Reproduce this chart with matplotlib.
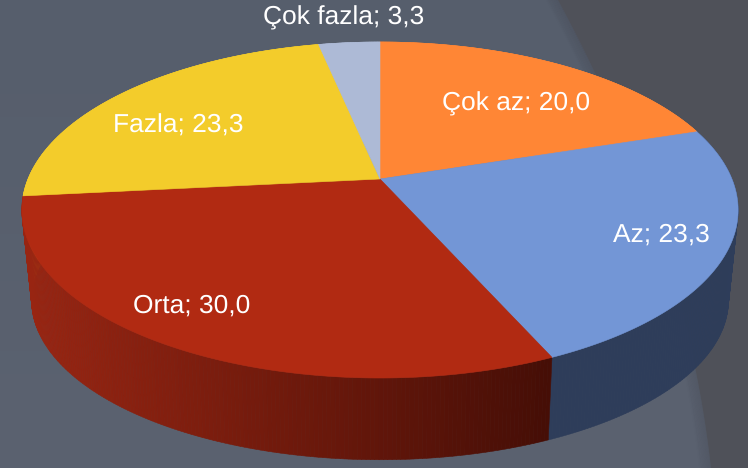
import numpy as np
import matplotlib
matplotlib.use('Agg')
import matplotlib.pyplot as plt
from matplotlib.patches import Polygon

plt.rcParams['font.family'] = ['Liberation Sans', 'DejaVu Sans']
plt.rcParams['text.hinting'] = 'none'

labels = ['Çok az', 'Az', 'Orta', 'Fazla', 'Çok fazla']
values = [20.0, 23.3, 30.0, 23.3, 3.3]
colors = ['#FF8635', '#7396D6', '#B12A12', '#F3CC2B', '#ADBAD6']
label_pos = [(516.5, 110), (661.5, 242), (191.5, 313), (178, 133), (343.5, 24)]


def project(theta, cy, R, A, k):
    # tilted circle, perspective squashes the far side
    u, v = np.sin(theta), np.cos(theta)
    d = 1 + k * v
    return 380 + R * u / d, cy - A * v / d


def topPoint(theta):
    return project(theta, 179, 352, 162.3, 0.1845)


def bottomPoint(theta):
    return project(theta, 270, 342, 153.5, 0.191)


def sideColor(i, x):
    if i == 2:
        t = np.clip((x - 30) / (547 - 30), 0, 1)
        c0 = np.array([152, 37, 18])
        c1 = np.array([70, 14, 6])
        return tuple((c0 + (c1 - c0) * t) / 255)
    if i == 1:
        return '#2E3D5A'
    return matplotlib.colors.to_rgb(colors[i])


def drawBackground(ax):
    ys = np.arange(0, 469)
    grad = np.zeros((469, 1, 3))
    grad[:, 0, 0] = np.linspace(86, 91, 469) / 255
    grad[:, 0, 1] = np.linspace(94, 98, 469) / 255
    grad[:, 0, 2] = np.linspace(108, 112, 469) / 255
    ax.imshow(grad, extent=(0, 748, 468, 0), aspect='auto', zorder=0)

    # dark page-curl area on the right
    fit = np.polyfit([0, 75, 367, 468], [558, 596, 695, 711], 3)
    xs = np.polyval(fit, ys)
    for i in range(10):
        ax.plot(xs - i * 1.2, ys, color='#474B57', alpha=0.22 - i * 0.02, lw=1.5, zorder=1)
    pts = list(zip(xs, ys)) + [(748, 468), (748, 0)]
    ax.add_patch(Polygon(pts, closed=True, fc='#4F5159', ec='none', zorder=2))


def drawPie(ax):
    edges = np.cumsum([0] + values) / sum(values) * 2 * np.pi

    # side wall, far strips first
    quads = []
    for i in range(len(values)):
        n = int(values[i] * 6) + 4
        th = np.linspace(edges[i], edges[i + 1], n + 1)
        for a, b in zip(th[:-1], th[1:]):
            quads.append((np.cos((a + b) / 2), i, a, b))
    quads.sort(key=lambda q: -q[0])
    for _, i, a, b in quads:
        x0, y0 = topPoint(a)
        x1, y1 = topPoint(b)
        x2, y2 = bottomPoint(b)
        x3, y3 = bottomPoint(a)
        c = sideColor(i, (x0 + x1) / 2)
        ax.add_patch(Polygon([(x0, y0), (x1, y1), (x2, y2), (x3, y3)], closed=True,
                             fc=c, ec=c, lw=0.4, zorder=3))

    # top face
    for i in range(len(values)):
        th = np.linspace(edges[i], edges[i + 1], 120)
        x, y = topPoint(th)
        pts = [(380, 179)] + list(zip(x, y))
        ax.add_patch(Polygon(pts, closed=True, fc=colors[i], ec=colors[i], lw=0.4, zorder=4))

    for i in range(len(values)):
        txt = labels[i] + '; ' + ('%.1f' % values[i]).replace('.', ',')
        ax.text(label_pos[i][0], label_pos[i][1], txt, color='white', fontsize=19,
                ha='center', va='baseline', zorder=5)


def main():
    fig = plt.figure(figsize=(7.48, 4.68), dpi=100)
    ax = fig.add_axes([0, 0, 1, 1])
    drawBackground(ax)
    drawPie(ax)
    ax.set_xlim(0, 748)
    ax.set_ylim(468, 0)
    ax.axis('off')
    fig.savefig('out.png', dpi=100)


if __name__ == "__main__":
    main()
